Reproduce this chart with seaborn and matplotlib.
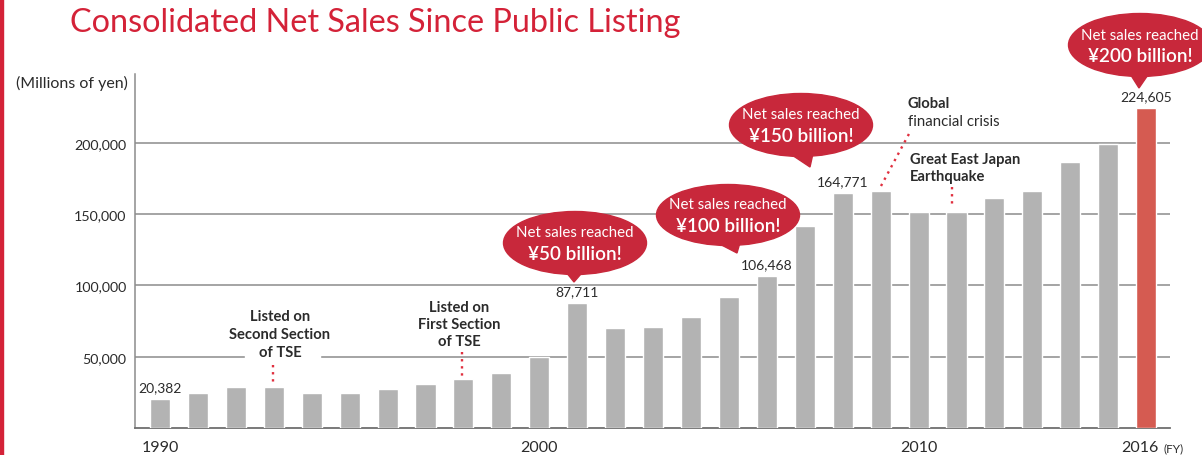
import matplotlib
matplotlib.use("Agg")
import numpy as np
import pandas as pd
import matplotlib.pyplot as plt
import seaborn as sns
from matplotlib.patches import Ellipse, Polygon, Rectangle
from matplotlib.transforms import Affine2D, ScaledTranslation
from matplotlib.lines import Line2D

# ---------------- data ----------------
years = list(range(1990, 2017))
net_sales = [20382, 24800, 29000, 29000, 24800, 24800, 27600, 31100, 34600, 38800,
             49900, 87711, 70300, 71000, 78000, 92100, 106468, 141900, 164771, 166200,
             151600, 151600, 161300, 166200, 186300, 199300, 224605]
labeled_years = [1990, 2001, 2006, 2008, 2016]
tick_years = [1990, 2000, 2010, 2016]
y_ticks = [50000, 100000, 150000, 200000]
bubble_line1 = ["Net sales reached"] * 4
bubble_line2 = ["¥50 billion!", "¥100 billion!", "¥150 billion!", "¥200 billion!"]

title = "Consolidated Net Sales Since Public Listing"
unit_label = "(Millions of yen)"

# ---------------- style ----------------
sns.set_theme(style="white")
plt.rcParams["font.family"] = ["Lato", "DejaVu Sans"]

W, H = 1202, 456
fig = plt.figure(figsize=(W / 100, H / 100), dpi=100)
ax = fig.add_axes([135 / W, 1 - 429 / H, (1170 - 135) / W, (429 - 75) / H])
# reference-pixel transform (origin top-left) for annotation layout
px = Affine2D().scale(1 / W, -1 / H).translate(0, 1) + fig.transFigure

GRAY = "#B3B3B3"
LAST = "#D55B51"
RED = "#C8283B"
TXT = "#2b2b2b"

df = pd.DataFrame({"year": [str(y) for y in years], "sales": net_sales})
colors = [GRAY] * (len(years) - 1) + [LAST]
sns.barplot(data=df, x="year", y="sales", hue="year", palette=colors,
            legend=False, width=0.53, saturation=1, ax=ax, zorder=3)

ax.set_xlim(-0.66, len(years) - 1 + 0.63)
ax.set_ylim(0, 248200)
ax.set_yticks(y_ticks)
ax.set_yticklabels([f"{v:,}" for v in y_ticks])
ax.set_xticks(range(len(years)))
ax.set_xticklabels([str(y) if y in tick_years else "" for y in years])
ax.set_xlabel("")
ax.set_ylabel("")
ax.yaxis.grid(True, color="#8c8c8c", lw=1.1)
ax.xaxis.grid(False)
ax.set_axisbelow(True)
ax.tick_params(axis="y", length=0, pad=6, labelsize=10.3, labelcolor=TXT)
ax.tick_params(axis="x", length=0, pad=9, labelsize=11.5, labelcolor=TXT)
for s in ["top", "right"]:
    ax.spines[s].set_visible(False)
ax.spines["left"].set_color("#8c8c8c")
ax.spines["left"].set_linewidth(1.1)
ax.spines["bottom"].set_color("#6e6e6e")
ax.spines["bottom"].set_linewidth(1.3)

# nudge the last year label left to leave room for "(FY)"
lbl = ax.get_xticklabels()[-1]
lbl.set_transform(lbl.get_transform() + ScaledTranslation(-6 / 100, 0, fig.dpi_scale_trans))

# value labels
for y in labeled_years:
    i = years.index(y)
    v = net_sales[i]
    ax.annotate(f"{v:,}", (i, v), xytext=(0, 4), textcoords="offset points",
                ha="center", va="bottom", fontsize=10, color=TXT, zorder=5)

# title, unit, border
fig.text(70 / W, 1 - 23 / H, title, fontsize=23.3, color="#D42238",
         ha="left", va="center")
fig.text(128 / W, 1 - 83 / H, unit_label, fontsize=11.5, color=TXT,
         ha="right", va="center")
fig.patches.append(Rectangle((0, 0), 2.5, H, transform=px, color="#D42238",
                             zorder=10))
fig.text(1163 / W, 1 - 449 / H, "(FY)", fontsize=8.5, color=TXT,
         ha="left", va="center")

# annotation texts
ax.add_patch(Rectangle((245, 352), 75, 10, transform=px, color="white",
                       zorder=1, clip_on=False))
ax.text(280, 326, "Listed on\nSecond Section", transform=px, ha="center",
        va="center", fontsize=10.6, fontweight="bold", color=TXT,
        linespacing=1.28, zorder=6)
ax.text(280, 353, "of TSE", transform=px, ha="center", va="center",
        fontsize=10.6, fontweight="bold", color=TXT, zorder=6)
ax.text(459, 325, "Listed on\nFirst Section\nof TSE", transform=px,
        ha="center", va="center", fontsize=10.6, fontweight="bold", color=TXT,
        linespacing=1.28, zorder=6)
ax.text(908, 104, "Global", transform=px, ha="left", va="center",
        fontsize=10.6, fontweight="bold", color=TXT, zorder=6)
ax.text(908, 122, "financial crisis", transform=px, ha="left", va="center",
        fontsize=10.8, color=TXT, zorder=6)
ax.text(910, 168.5, "Great East Japan\nEarthquake", transform=px, ha="left",
        va="center", fontsize=10.6, fontweight="bold", color=TXT,
        linespacing=1.25, zorder=6)

# dotted leader lines
DOT = "#E0303F"
for (x0, y0, x1, y1) in [(273, 366, 273, 386), (462, 353, 462, 377),
                         (881, 187, 910, 133), (952, 188, 952, 209)]:
    ax.add_line(Line2D([x0, x1], [y0, y1], transform=px, color=DOT, lw=1.7,
                       linestyle=(0, (1, 2)), clip_on=False, zorder=6))

# speech bubbles
bubbles = [
    dict(c=(575, 244), w=143, h=63, tri=[(562, 268), (587, 268), (574, 283)]),
    dict(c=(728, 216), w=143, h=61, tri=[(710, 240), (741, 240), (737, 254)]),
    dict(c=(801, 126), w=143, h=63, tri=[(783, 150), (814, 150), (810, 168)]),
    dict(c=(1140, 46), w=143, h=63, tri=[(1127, 70), (1152, 70), (1139, 89)]),
]
for b, l1, l2 in zip(bubbles, bubble_line1, bubble_line2):
    cx, cy = b["c"]
    ax.add_patch(Ellipse((cx, cy), b["w"], b["h"], transform=px, color=RED,
                         clip_on=False, zorder=7))
    ax.add_patch(Polygon(b["tri"], closed=True, transform=px, color=RED,
                         clip_on=False, zorder=7))
    ax.text(cx, cy - 10.5, l1, transform=px, ha="center", va="center",
            fontsize=10.8, color="white", zorder=8)
    ax.text(cx, cy + 10.5, l2, transform=px, ha="center", va="center",
            fontsize=13.6, fontweight="semibold", color="white", zorder=8)

fig.savefig("out.png", dpi=100)
